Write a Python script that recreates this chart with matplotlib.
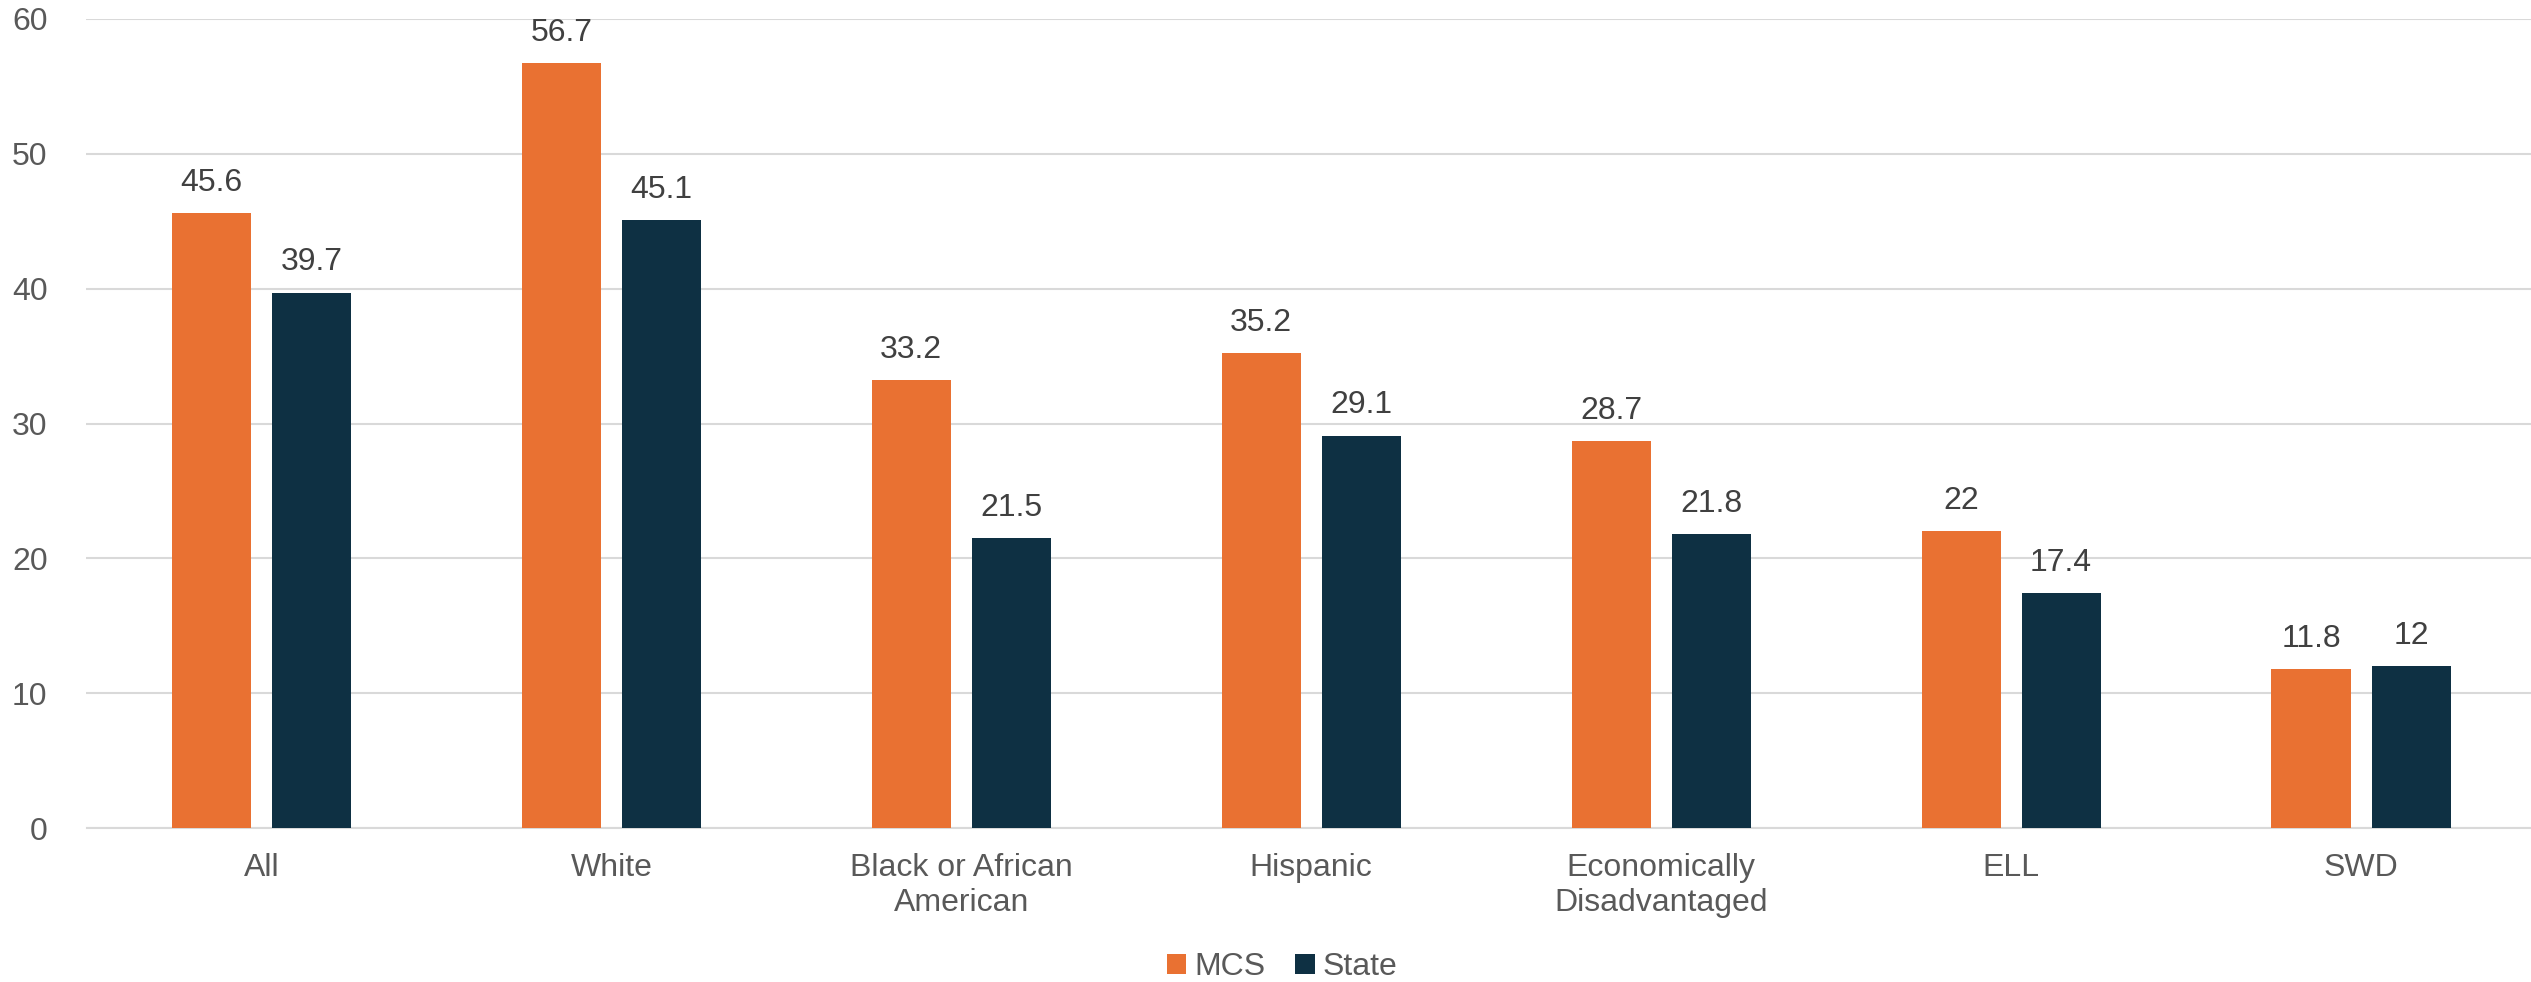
import numpy as np
import matplotlib
matplotlib.use('Agg')
import matplotlib.pyplot as plt

# Data
categories = ['All', 'White', 'Black or African\nAmerican', 'Hispanic',
              'Economically\nDisadvantaged', 'ELL', 'SWD']
mcs = [45.6, 56.7, 33.2, 35.2, 28.7, 22, 11.8]
state = [39.7, 45.1, 21.5, 29.1, 21.8, 17.4, 12]
series_names = ['MCS', 'State']
yticks = [0, 10, 20, 30, 40, 50, 60]

orange = '#E97132'
navy = '#0E3043'
grid_col = '#D9D9D9'
fs = 23

plt.rcParams['font.family'] = ['Liberation Sans', 'DejaVu Sans']

fig = plt.figure(figsize=(25.31, 9.82), dpi=100)
ax = fig.add_axes([86.5/2531, 1-828/982, (2536-86.5)/2531, (828-19)/982])

x = np.arange(len(categories))
w = 0.226
off = 0.143
b1 = ax.bar(x - off, mcs, w, color=orange, label=series_names[0], zorder=3)
b2 = ax.bar(x + off, state, w, color=navy, label=series_names[1], zorder=3)

for bars in (b1, b2):
    ax.bar_label(bars, labels=[f'{v:g}' for v in bars.datavalues],
                 padding=11, fontsize=fs, color='#404040')

ax.set_xlim(-0.5, len(categories) - 0.5)
ax.set_ylim(0, 60)
ax.set_yticks(yticks)
ax.yaxis.grid(True, color=grid_col, linewidth=1.5, zorder=0)
ax.set_axisbelow(True)

ax.set_xticks(x)
ax.set_xticklabels(categories, fontsize=fs, color='#595959', linespacing=1.2)
ax.tick_params(axis='y', labelsize=fs, labelcolor='#595959', length=0, pad=28)
ax.tick_params(axis='x', length=0, pad=18)

for s in ['top', 'right', 'left']:
    ax.spines[s].set_visible(False)
ax.spines['bottom'].set_color(grid_col)
ax.spines['bottom'].set_linewidth(1.5)

fig.legend(loc='center', bbox_to_anchor=(1282/2531, 1-967/982), ncol=2,
           frameon=False, fontsize=fs, labelcolor='#595959',
           handlelength=0.6, handleheight=0.6, handletextpad=0.25,
           columnspacing=0.95)

fig.savefig('out.png', dpi=100)
